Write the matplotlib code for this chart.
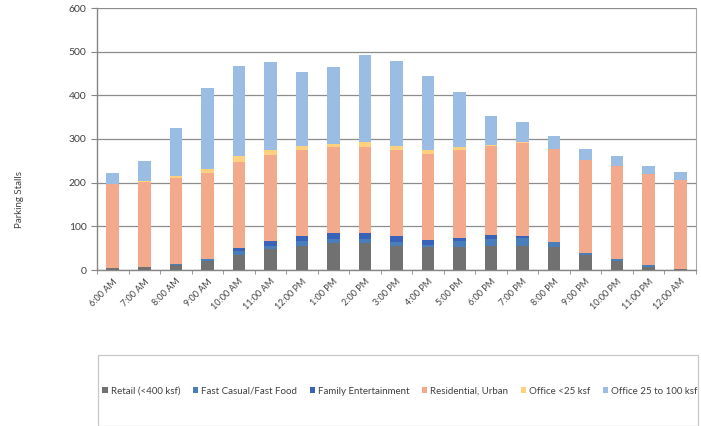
import numpy as np
import matplotlib
matplotlib.use("Agg")
import matplotlib.pyplot as plt
from matplotlib.patches import Rectangle

hours = ["6:00 AM", "7:00 AM", "8:00 AM", "9:00 AM", "10:00 AM", "11:00 AM",
         "12:00 PM", "1:00 PM", "2:00 PM", "3:00 PM", "4:00 PM", "5:00 PM",
         "6:00 PM", "7:00 PM", "8:00 PM", "9:00 PM", "10:00 PM", "11:00 PM",
         "12:00 AM"]

retail = [4, 6, 12, 21, 35, 47, 56, 61, 61, 56, 52, 53, 55, 55, 52, 34, 21, 8, 2]
fast_casual = [0, 0, 1, 4, 9, 9, 10, 11, 11, 9, 5, 13, 17, 19, 11, 5, 4, 3, 0]
family_ent = [0, 0, 0, 0, 6, 11, 13, 13, 13, 14, 12, 8, 8, 4, 0, 0, 0, 0, 0]
residential = [192, 196, 197, 197, 197, 197, 196, 196, 196, 196, 197, 200, 204, 212, 213, 213, 213, 208, 203]
office_small = [1, 1, 5, 10, 13, 11, 9, 8, 11, 10, 9, 7, 3, 3, 1, 0, 0, 0, 0]
office_large = [25, 46, 111, 185, 208, 201, 170, 176, 201, 193, 169, 126, 66, 46, 29, 25, 23, 20, 20]

series = [
    ("Retail (<400 ksf)", retail, "#717171"),
    ("Fast Casual/Fast Food", fast_casual, "#4a7ebb"),
    ("Family Entertainment", family_ent, "#3a62b8"),
    ("Residential, Urban", residential, "#f3a98b"),
    ("Office <25 ksf", office_small, "#ffd17f"),
    ("Office 25 to 100 ksf", office_large, "#9cbde3"),
]

plt.rcParams["font.family"] = ["Lato", "DejaVu Sans"]

fig = plt.figure(figsize=(7.01, 4.26), dpi=100)
ax = fig.add_axes([97 / 701, 1 - 270 / 426, 599 / 701, 262 / 426])

x = np.arange(len(hours))
bottom = np.zeros(len(hours))
handles = []
for name, vals, col in series:
    b = ax.bar(x, vals, width=0.4, bottom=bottom, color=col, linewidth=0, label=name, zorder=3)
    handles.append(b)
    bottom += np.array(vals)

ax.set_xlim(-0.5, len(hours) - 0.5)
ax.set_ylim(0, 600)
ax.set_yticks(range(0, 601, 100))
ax.yaxis.grid(True, color="#8c8c8c", linewidth=0.9, zorder=0)
ax.set_axisbelow(True)

ax.set_xticks(x)
ax.set_xticklabels(hours, rotation=45, ha="right", rotation_mode="anchor", fontsize=6.5, color="#404040")
ax.set_xticks(np.arange(-0.5, len(hours), 1), minor=True)
ax.tick_params(axis="x", which="major", length=0, pad=5)
ax.tick_params(axis="x", which="minor", length=3, color="#868686", direction="out")
ax.tick_params(axis="y", length=4, color="#868686", labelsize=7.5, labelcolor="#404040")

for s in ["left", "bottom"]:
    ax.spines[s].set_color("#868686")
    ax.spines[s].set_linewidth(1.0)
ax.spines["top"].set_visible(False)
ax.spines["right"].set_color("#a6a6a6")
ax.spines["right"].set_linewidth(0.8)

fig.text(20 / 701, 1 - 200 / 426, "Parking Stalls", rotation=90, ha="center", va="center",
         fontsize=7, color="#404040")

# legend box
fig.patches.append(Rectangle((98 / 701, 0.0), 600 / 701, 71 / 426, transform=fig.transFigure,
                             facecolor="white", edgecolor="#c8c8c8", linewidth=0.9))
fig.legend(handles=handles, loc="center", bbox_to_anchor=(400 / 701, 1 - 391 / 426), ncol=6,
           frameon=False, fontsize=7, handlelength=0.55, handleheight=0.55, handletextpad=0.3,
           columnspacing=1.3, labelcolor="#404040")

fig.savefig("out.png", dpi=100)
